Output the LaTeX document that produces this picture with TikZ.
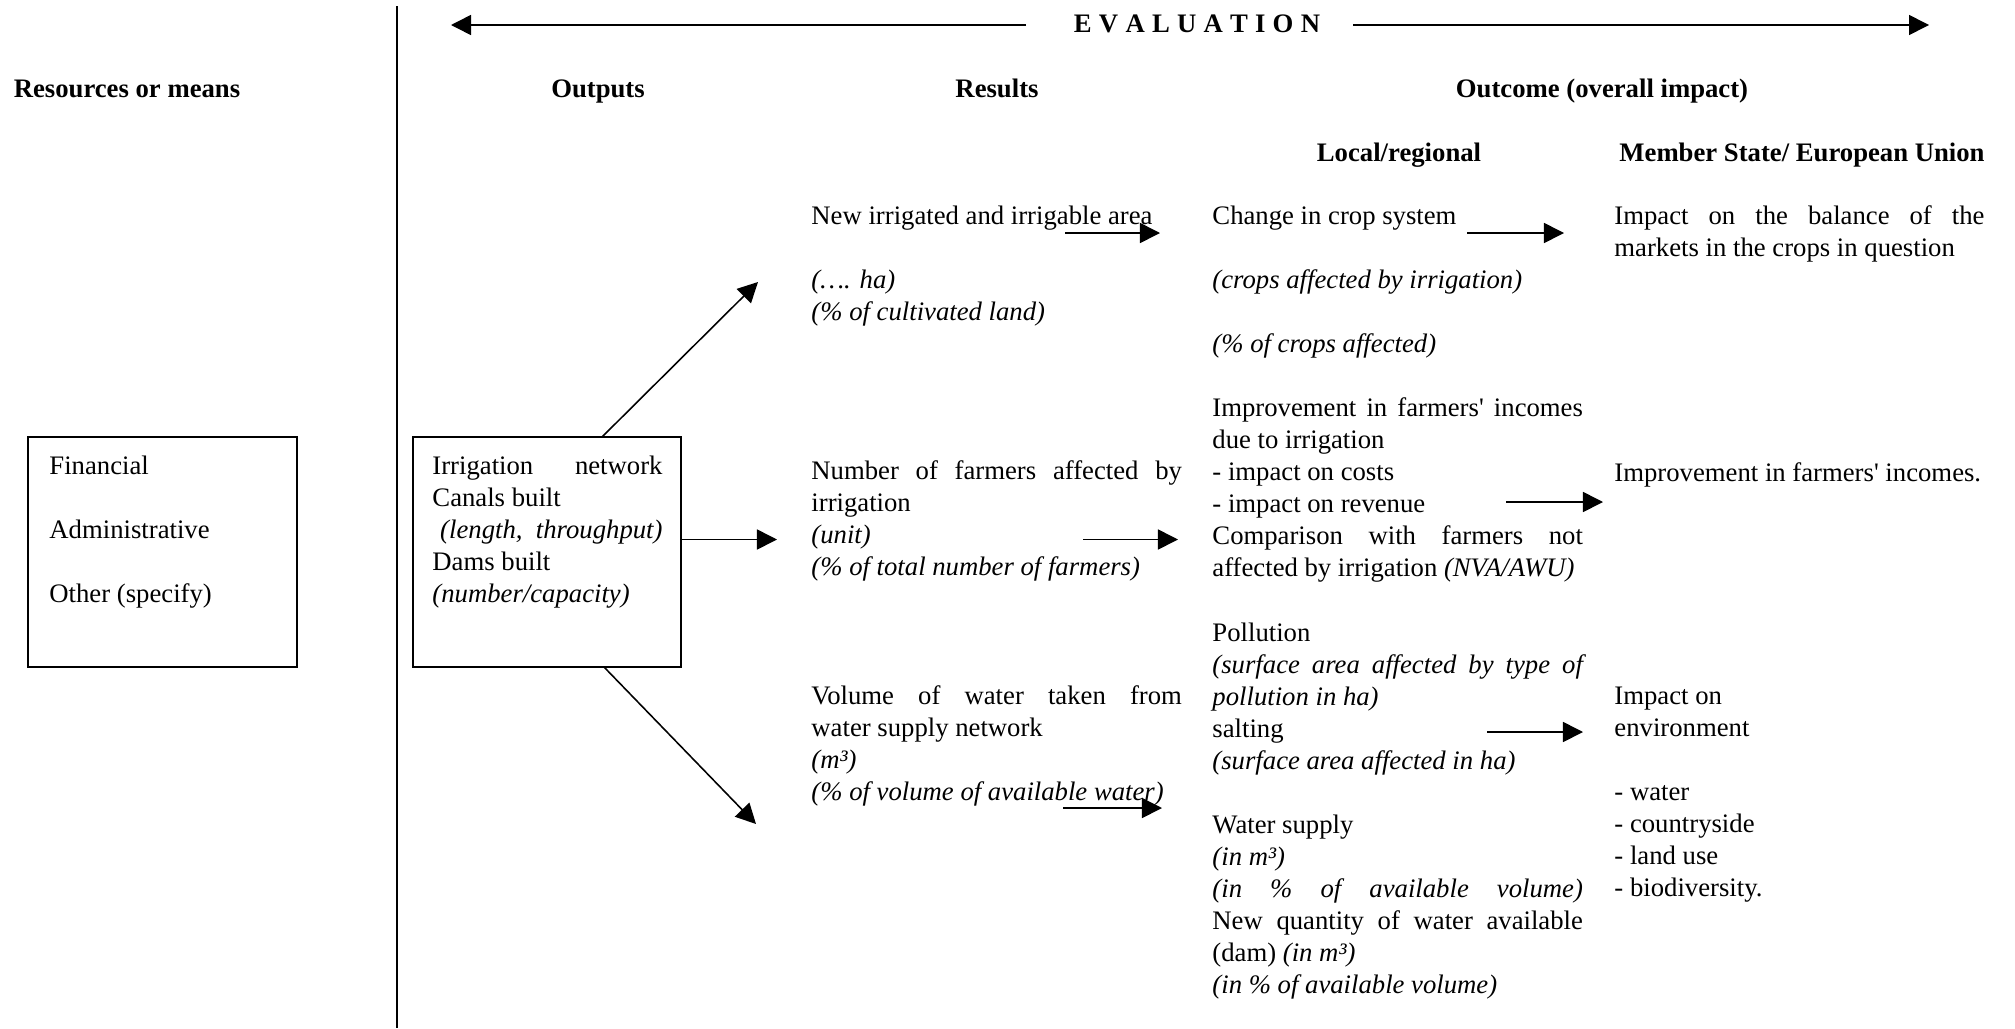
\documentclass[tikz,border=0pt]{standalone}
\usepackage{fontspec}
\setmainfont{Liberation Serif}
\usetikzlibrary{arrows.meta}
\hbadness=10000
\newcommand\txtblock[2]{\begin{minipage}[t]{#1}\fontsize{12}{14.4}\selectfont\parindent=0pt\hyphenpenalty=10000\exhyphenpenalty=10000\relax #2\end{minipage}}
\newcommand\lsp{\hspace{3.25pt}}
\begin{document}
\begin{tikzpicture}[x=0.4494pt,y=-0.4494pt,
  txt/.style={anchor=base west,inner sep=0pt},
  hdr/.style={anchor=base,inner sep=0pt,font=\fontsize{12}{14.4}\selectfont\bfseries},
  arr/.style={line width=0.7pt,-{Triangle[length=9pt,width=9pt]}},
  frame/.style={draw,line width=0.7pt,inner sep=0pt,minimum height=103.4pt}]
\useasboundingbox (0,0) rectangle (2015,1028);

% separator line
\coordinate (vtop) at (397,6);
\coordinate (vbot) at (397,1028);
\draw[line width=0.7pt] (vtop) -- (vbot);

% evaluation
\node[hdr] (eval) at (1197,32) {E\lsp V\lsp A\lsp L\lsp U\lsp A\lsp T\lsp I\lsp O\lsp N};
\coordinate (evl1) at (1026,25);
\coordinate (evl2) at (451,25);
\coordinate (evr1) at (1353,25);
\coordinate (evr2) at (1929,25);
\draw[arr] (evl1) -- (evl2);
\draw[arr] (evr1) -- (evr2);

% headers
\node[hdr] (hres) at (127,97) {Resources or means};
\node[hdr] (hout) at (598,97) {Outputs};
\node[hdr] (hrsl) at (997,97) {Results};
\node[hdr] (hocm) at (1602,97) {Outcome (overall impact)};
\node[hdr] (hloc) at (1399,161) {Local/regional};
\node[hdr] (heu) at (1802,161) {Member State/ European Union};

% boxes
\node[frame,minimum width=120.9pt] (box1) at (162.5,552) {};
\node[frame,minimum width=120.4pt] (box2) at (547,552) {};
\node[txt] (box1t) at (49,474) {\txtblock{110pt}{Financial\\[14.4pt]Administrative\\[14.4pt]Other (specify)}};
\node[txt] (box2t) at (432,474.5) {\txtblock{103.4pt}{Irrigation network\linebreak Canals built\\ \hspace*{3.5pt}\textit{(length, throughput)}\linebreak Dams built\\ \textit{(number/capacity)}}};

% results
\node[txt] (r1) at (811,224.5) {\txtblock{166.5pt}{New irrigated and irrigable area\\[14.4pt]\textit{(…. ha)}\\ \textit{(\% of cultivated land)}}};
\node[txt] (r2) at (811,479.5) {\txtblock{166.5pt}{Number of farmers affected by\linebreak irrigation\\ \textit{(unit)}\\ \textit{(\% of total number of farmers)}}};
\node[txt] (r3) at (811,704) {\txtblock{166.5pt}{Volume of water taken from\linebreak water supply network\\ \textit{(m³)}\\ \textit{(\% of volume of available water)}}};

% local
\node[txt] (l1) at (1212,224.5) {\txtblock{166.5pt}{Change in crop system\\[14.4pt]\textit{(crops affected by irrigation)}\\[14.4pt]\textit{(\% of crops affected)}}};
\node[txt] (l2) at (1212,416) {\txtblock{166.5pt}{Improvement in farmers\textquotesingle{} incomes\linebreak due to irrigation\\ - impact on costs\\ - impact on revenue\\ Comparison with farmers not\linebreak affected by irrigation \textit{(NVA/AWU)}}};
\node[txt] (l3) at (1212,641) {\txtblock{166.5pt}{Pollution\\ \textit{(surface area affected by type of\linebreak pollution in ha)}\\ salting\\ \textit{(surface area affected in ha)}\\[14.4pt]Water supply\\ \textit{(in m³)}\\ \textit{(in \% of available volume)}\linebreak New quantity of water available\linebreak (dam) \textit{(in m³)}\\ \textit{(in \% of available volume)}}};

% EU
\node[txt] (e1) at (1614,224.5) {\txtblock{166.3pt}{Impact on the balance of the\linebreak markets in the crops in question}};
\node[txt] (e2) at (1614,481) {\txtblock{166.3pt}{Improvement in farmers\textquotesingle{} incomes.}};
\node[txt] (e3) at (1614,704) {\txtblock{166.3pt}{Impact on\\ environment\\[14.4pt]- water\\ - countryside\\ - land use\\ - biodiversity.}};

% arrows from outputs box
\coordinate (a1s) at (602,437);
\coordinate (a1e) at (758,282);
\coordinate (a2s) at (681,539.5);
\coordinate (a2e) at (777,539.5);
\coordinate (a3s) at (604,667);
\coordinate (a3e) at (756,824);
\draw[arr] (a1s) -- (a1e);
\draw[arr] (a2s) -- (a2e);
\draw[arr] (a3s) -- (a3e);

% arrows between columns
\coordinate (b1s) at (1065,233);  \coordinate (b1e) at (1160,233);
\coordinate (b2s) at (1467,233);  \coordinate (b2e) at (1564,233);
\coordinate (b3s) at (1083,539.5);\coordinate (b3e) at (1178,539.5);
\coordinate (b4s) at (1506,502);  \coordinate (b4e) at (1603,502);
\coordinate (b5s) at (1063,808);  \coordinate (b5e) at (1162,808);
\coordinate (b6s) at (1487,732);  \coordinate (b6e) at (1583,732);
\draw[arr] (b1s) -- (b1e);
\draw[arr] (b2s) -- (b2e);
\draw[arr] (b3s) -- (b3e);
\draw[arr] (b4s) -- (b4e);
\draw[arr] (b5s) -- (b5e);
\draw[arr] (b6s) -- (b6e);
\end{tikzpicture}
\end{document}
